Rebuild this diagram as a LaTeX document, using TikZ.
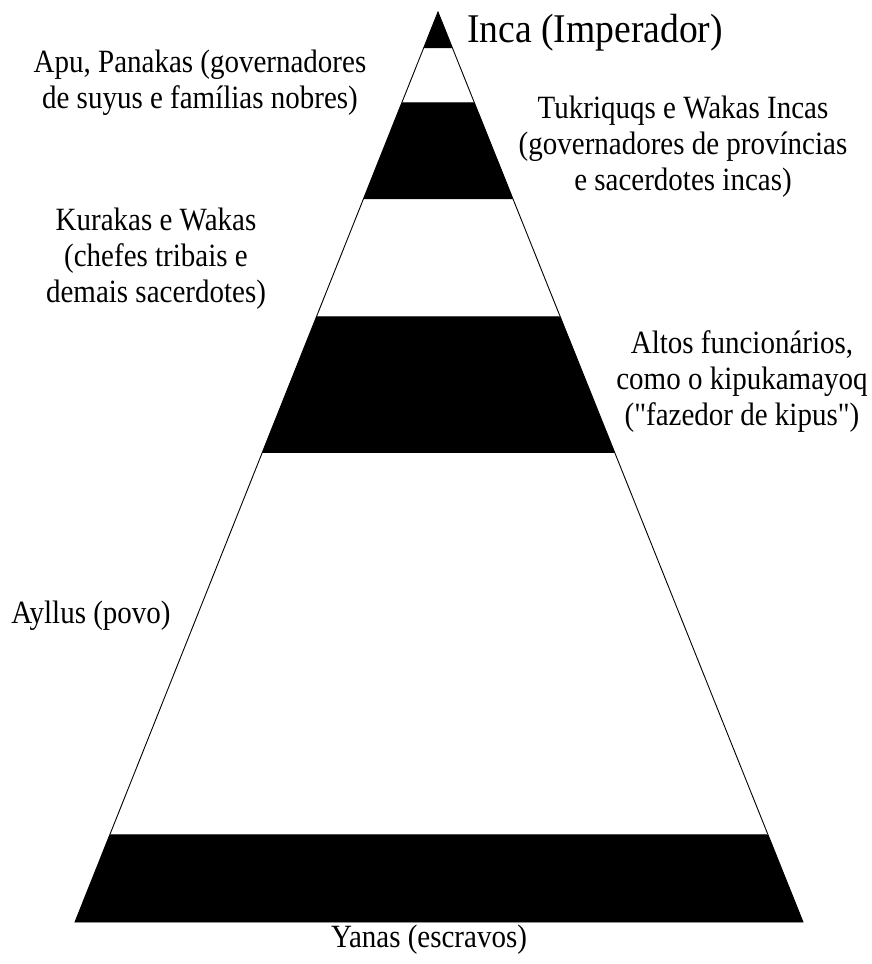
\documentclass[tikz,border=0pt]{standalone}
\usepackage{graphicx}
\usepackage{fontspec}
\setmainfont{Liberation Serif}[Ligatures=TeXOff]
\usetikzlibrary{calc}
\newcommand{\txtblk}[1]{\scalebox{1}[1.12]{\begin{tabular}[t]{@{}c@{}}#1\end{tabular}}}
\begin{document}
\begin{tikzpicture}[x=1pt,y=-1pt,
  lbl/.style={inner sep=0pt, anchor=base, font=\fontsize{29}{32.3}\selectfont},
  band/.style={fill=black}]
\useasboundingbox (0,0) rectangle (871,964);
\coordinate (A) at (438,12);
\coordinate (L) at (75,922);
\coordinate (R) at (803,922);
% black bands
\fill[band] (A) -- ($(A)!0.0396!(L)$) -- ($(A)!0.0396!(R)$) -- cycle;
\fill[band] ($(A)!0.0989!(L)$) -- ($(A)!0.2055!(L)$) -- ($(A)!0.2055!(R)$) -- ($(A)!0.0989!(R)$) -- cycle;
\fill[band] ($(A)!0.3341!(L)$) -- ($(A)!0.4846!(L)$) -- ($(A)!0.4846!(R)$) -- ($(A)!0.3341!(R)$) -- cycle;
\fill[band] ($(A)!0.9033!(L)$) -- (L) -- (R) -- ($(A)!0.9033!(R)$) -- cycle;
% outline and band boundaries
\draw[line width=0.9pt] (A) -- (L) -- (R) -- cycle;
\draw[line width=0.6pt, black!70] ($(A)!0.0989!(L)$) -- ($(A)!0.0989!(R)$);
\draw[line width=0.6pt, black!70] ($(A)!0.3341!(L)$) -- ($(A)!0.3341!(R)$);
\draw[line width=0.6pt, black!70] ($(A)!0.9033!(L)$) -- ($(A)!0.9033!(R)$);
% labels
\node[lbl] (inca) at (595,42) {\fontsize{37.6}{40}\selectfont\scalebox{1}[1.085]{Inca (Imperador)}};
\node[lbl] (apu) at (200,72) {\txtblk{Apu, Panakas (governadores\\de suyus e famílias nobres)}};
\node[lbl] (tuk) at (683,118) {\txtblk{Tukriquqs e Wakas Incas\\(governadores de províncias\\e sacerdotes incas)}};
\node[lbl] (kur) at (156,230) {\txtblk{Kurakas e Wakas\\(chefes tribais e\\demais sacerdotes)}};
\node[lbl] (alt) at (742,353) {\txtblk{Altos funcionários,\\como o kipukamayoq\\("fazedor de kipus")}};
\node[lbl] (ayl) at (91,623) {\txtblk{Ayllus (povo)}};
\node[lbl] (yan) at (429,947) {\txtblk{Yanas (escravos)}};
\end{tikzpicture}
\end{document}
